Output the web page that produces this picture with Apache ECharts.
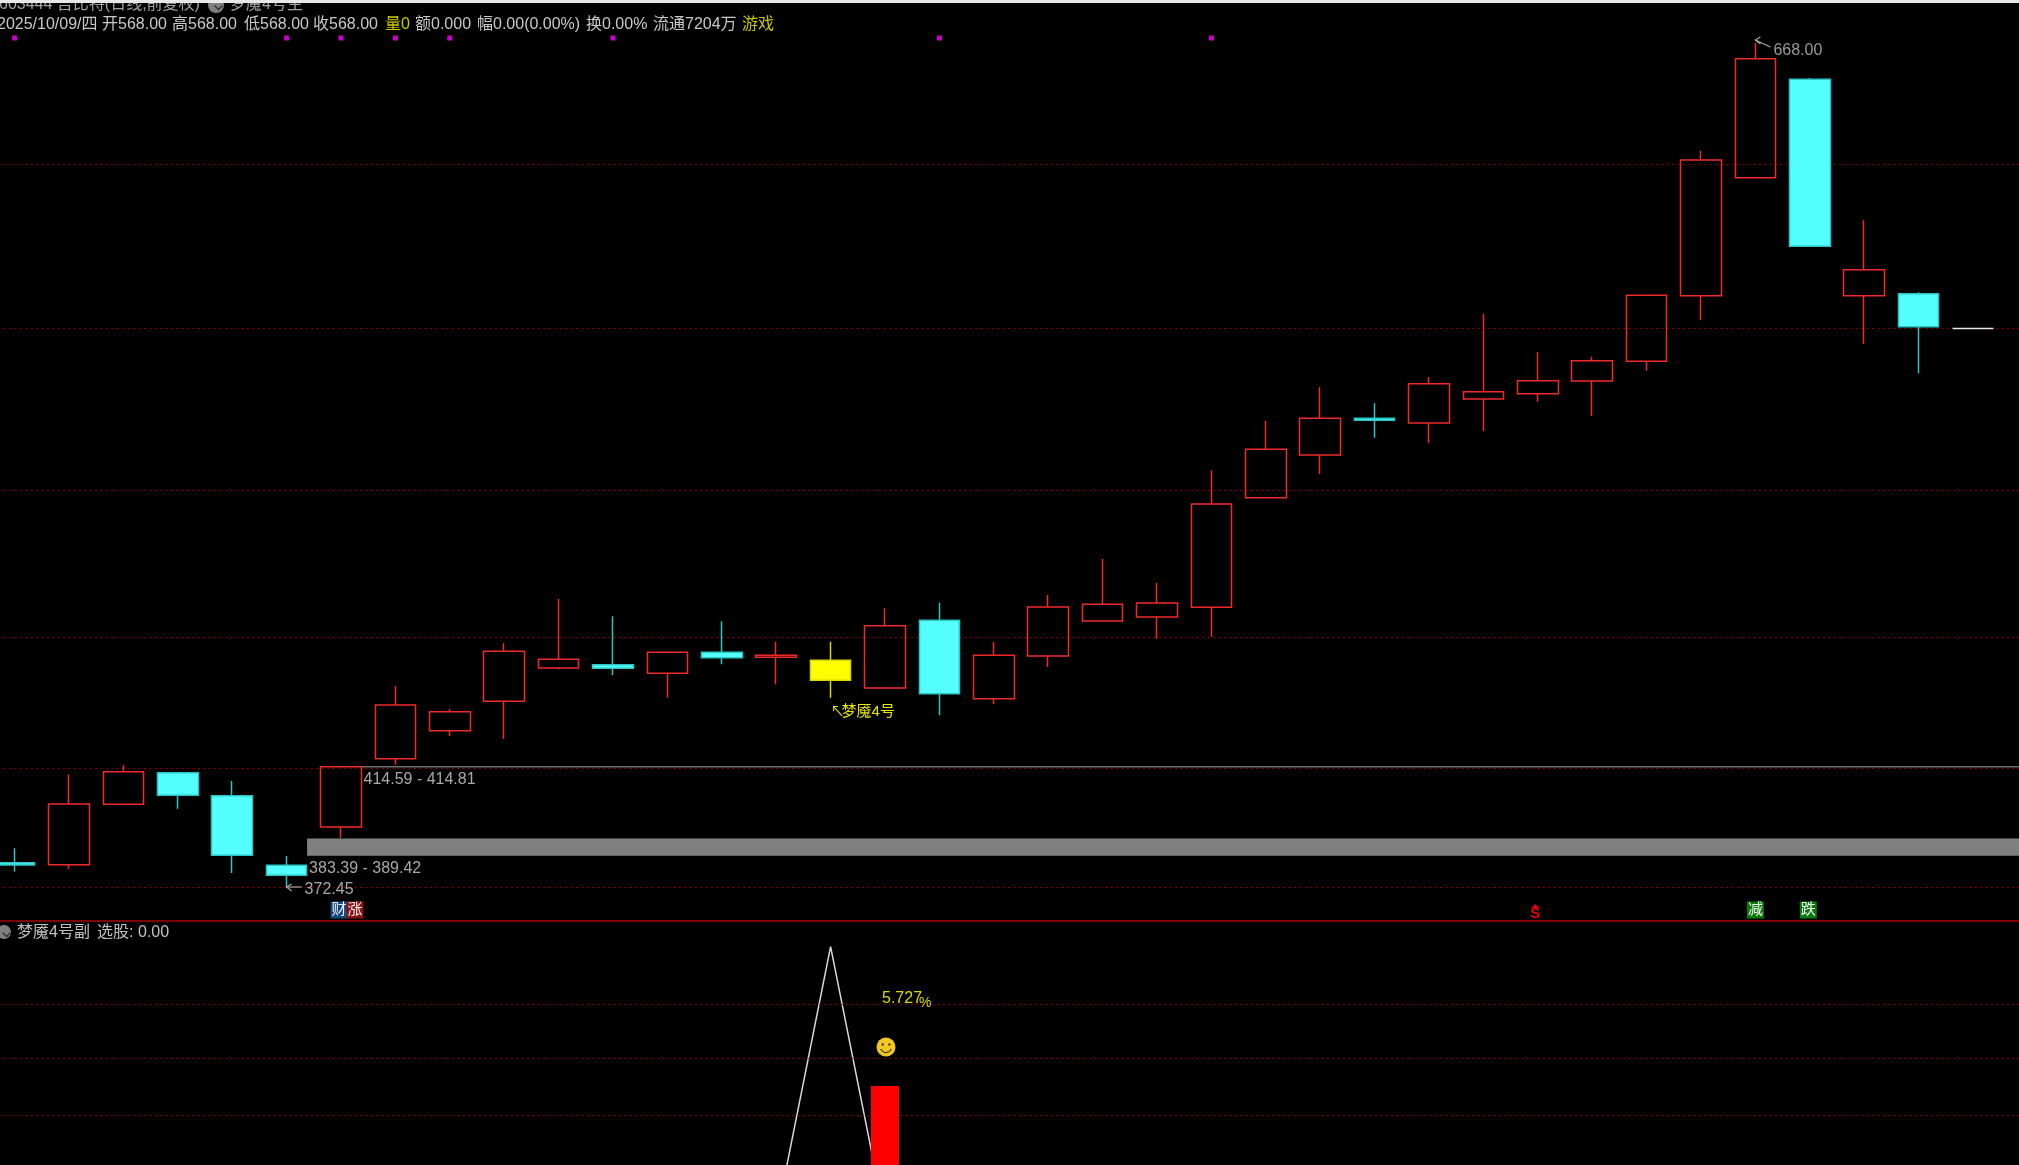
<!DOCTYPE html>
<html>
<head>
<meta charset="utf-8">
<title>梦魇4号</title>
<script src="https://cdn.jsdelivr.net/npm/echarts@6/dist/echarts.min.js"></script>
<style>
html,body{margin:0;padding:0;background:#000;overflow:hidden}
#board{width:2019px;height:1165px}
</style>
</head>
<body>
<div id="board"></div>
<script>
// daily candles
const opens  = [380.96,380.26,401.41,412.48,404.42,380.05,393.46,417.38,427.18,437.48,449.14,450.29,447.28,454.64,452.89,451.84,442.14,465.84,438.39,453.34,465.60,467.00,470.39,508.78,523.73,536.58,534.93,543.34,545.19,549.64,556.54,579.51,620.83,655.29,579.51,580.21,568.00]
const closes = [380.15,401.51,412.83,404.56,383.55,376.55,414.58,436.18,433.84,454.99,452.19,449.03,454.64,452.75,453.59,444.83,463.95,440.14,453.59,470.50,471.44,471.90,506.57,525.72,536.58,535.88,548.70,545.89,549.75,556.75,579.65,627.03,662.50,596.81,588.62,568.66,568.00]
const lows   = [377.81,378.75,401.41,399.87,377.35,372.45,389.50,415.28,425.22,424.28,448.69,446.69,438.74,450.43,443.43,438.74,442.14,432.58,436.43,449.49,465.60,459.40,460.10,508.78,517.07,529.79,527.93,532.13,542.39,537.39,553.25,570.95,620.83,596.81,562.60,552.34,568.00]
const highs  = [386.00,411.92,415.17,412.48,409.57,383.31,414.58,442.84,434.78,457.79,473.30,467.25,454.64,465.49,458.35,458.35,470.04,472.01,458.24,474.70,487.31,478.90,518.37,535.74,547.43,541.83,551.04,573.21,559.69,558.15,579.65,630.29,668.00,655.75,605.91,580.70,568.00]
const days = opens.map((v, i) => String(i)).concat([''])

const gridPrices = [625.63, 568.2, 511.47, 460.0, 414.12, 372.45]
const subGridValues = [0.79, 0.588, 0.381]

const signalDay = 15
const dojiDay = 36
const dotDays = [0, 5, 6, 7, 8, 11, 17, 22]
const dotPrice = 669.75

const zoneDays = [5, 6]
const zoneLows = [383.39, 414.59]
const zoneHighs = [389.42, 414.81]

const extremeDays = [5, 32]
const extremePrices = [372.45, 668.00]

const badgeDays = [6, 6, 32, 33]
const badgeTexts = ['财', '涨', '减', '跌']
const badgeColors = ['#12477f', '#8c1212', '#0a7a0a', '#0a7a0a']
const badgePrice = 364.4

const pickValues = [0,0,0,0,0,0,0,0,0,0,0,0,0,0,0,1,0,0,0,0,0,0,0,0,0,0,0,0,0,0,0,0,0,0,0,0,0,0]
const barDay = 16
const barValue = 0.488

const headerTexts = ['2025/10/09/四','开568.00','高568.00','低568.00','收568.00','量','0','额0.000','幅0.00(0.00%)','换0.00%','流通7204万','游戏']
const headerX = [-3,102,172,244,313,385,401,415,477,586,653,742]
const FONT = '"Liberation Sans","Noto Sans CJK SC",sans-serif'
const RED = '#f02a2a'
const CYAN = '#54ffff'
const TEAL = '#2cc4c4'
const GREY = '#a8a8a8'
const YELLOW = '#dcdc00'
const STEP = 54.4
const LEFT = 14.6 - STEP / 2

function txt(x, y, text, fill, size, align) {
  return {type:'text', silent:true, style:{x:x, y:y, text:text, fill:fill, font:size+'px '+FONT, textAlign:align||'left', textVerticalAlign:'middle'}}
}

let candleData = opens.map((o, i) => {
  let item = {value:[o, closes[i], lows[i], highs[i]]}
  if (i === signalDay) item.itemStyle = {color:'#ffff00', color0:'#ffff00', borderColor0:'#d8d800', borderColor:'#d8d800'}
  if (i === dojiDay) item.itemStyle = {borderColor:'#e8e8e8', borderColor0:'#e8e8e8', borderColorDoji:'#e8e8e8'}
  return item
})

let myChart = echarts.init(document.getElementById('board'), null, {renderer:'canvas'})
myChart.setOption({
  animation:false,
  backgroundColor:'#000',
  grid:[
    {left:LEFT, top:0, width:STEP*38, height:921, outerBoundsMode:'none'},
    {left:LEFT, top:921, width:STEP*38, height:297.7, outerBoundsMode:'none'}
  ],
  xAxis:[
    {type:'category', gridIndex:0, data:days, axisTick:{show:false}, axisLabel:{show:false}, axisLine:{show:true, lineStyle:{color:'#a80000', width:1.5}}, splitLine:{show:false}},
    {type:'category', gridIndex:1, data:days, show:false}
  ],
  yAxis:[
    {type:'value', gridIndex:0, min:360.54, max:683.05, show:false, splitLine:{show:false}},
    {type:'value', gridIndex:1, min:0, max:1.0945, show:false, splitLine:{show:false}}
  ],
  graphic:{elements:[
    {type:'rect', left:0, top:0, z:100, shape:{width:2019, height:3}, style:{fill:'#e8e8e8'}},
    {type:'text', left:-1, top:-3, z:90, style:{text:'603444 吉比特(日线,前复权)', fill:'#a0a0a0', font:'16px '+FONT}},
    {type:'circle', left:208, top:-3, z:90, shape:{r:8}, style:{fill:'#808080'}},
    {type:'polyline', left:212, top:3, z:91, shape:{points:[[0,0],[4,4],[8,0]]}, style:{stroke:'#333', lineWidth:1.5, fill:null}},
    {type:'text', left:230, top:-3, z:90, style:{text:'梦魇4号主', fill:'#a0a0a0', font:'16px '+FONT}},
    {type:'circle', left:-3, top:925, z:90, shape:{r:7}, style:{fill:'#808080'}},
    {type:'polyline', left:0, top:930, z:91, shape:{points:[[0,0],[4,4],[8,0]]}, style:{stroke:'#333', lineWidth:1.5, fill:null}},
    {type:'text', left:17, top:925, z:90, style:{text:'梦魇4号副', fill:'#c0c0c0', font:'16px '+FONT}},
    {type:'text', left:97, top:925, z:90, style:{text:'选股: 0.00', fill:'#c0c0c0', font:'16px '+FONT}}
  ].concat(headerTexts.map((t, i) => ({
    type:'text', left:headerX[i], top:17, z:90,
    style:{text:t, font:'16px '+FONT, fill:(t === '量' || t === '0' || t === '游戏') ? '#c8c800' : '#c8c8c8'}
  })))},
  series:[
    {
      name:'grid', type:'line', xAxisIndex:0, yAxisIndex:0, data:[], silent:true, z:1,
      markLine:{silent:true, symbol:'none', label:{show:false}, animation:false,
        lineStyle:{color:'#8c0000', width:1, type:[2,3.4]},
        data:gridPrices.map(p => ({yAxis:p}))}
    },
    {
      name:'subGrid', type:'line', xAxisIndex:1, yAxisIndex:1, data:[], silent:true, z:1,
      markLine:{silent:true, symbol:'none', label:{show:false}, animation:false,
        lineStyle:{color:'#8c0000', width:1, type:[2,3.4]},
        data:subGridValues.map(p => ({yAxis:p}))}
    },
    {
      name:'zones', type:'custom', xAxisIndex:0, yAxisIndex:0, z:2, silent:true,
      data:zoneDays.map((d, i) => [d, zoneLows[i], zoneHighs[i]]),
      renderItem(params, api){
        let i = params.dataIndex
        let top = api.coord([api.value(0), zoneHighs[i]])
        let bot = api.coord([api.value(0), zoneLows[i]])
        let x0 = top[0] + 20.5
        let h = Math.max(bot[1]-top[1], 1.5)
        return {type:'group', children:[
          {type:'rect', shape:{x:x0, y:top[1], width:api.getWidth()-x0, height:h},
            style:{fill:h > 3 ? '#808080' : '#6c6c6c'}},
          txt(x0+2, bot[1]+13, zoneLows[i].toFixed(2)+' - '+zoneHighs[i].toFixed(2), GREY, 16)
        ]}
      }
    },
    {
      name:'K', type:'candlestick', xAxisIndex:0, yAxisIndex:0, z:5, barWidth:41, silent:true,
      data:candleData,
      itemStyle:{color:'transparent', color0:CYAN, borderColor:RED, borderColor0:TEAL, borderColorDoji:RED, borderWidth:1.5}
    },
    {
      name:'dots', type:'scatter', xAxisIndex:0, yAxisIndex:0, z:6, symbol:'rect', symbolSize:5, silent:true,
      itemStyle:{color:'#ff00ff'},
      data:dotDays.map(d => [d, dotPrice])
    },
    {
      name:'extremes', type:'custom', xAxisIndex:0, yAxisIndex:0, z:7, silent:true,
      data:extremeDays.map((d, i) => [d, extremePrices[i]]),
      renderItem(params, api){
        let p = api.coord([api.value(0), api.value(1)])
        let low = params.dataIndex === 0
        let dy = low ? 0 : 7
        let yy = low ? p[1] : p[1]-3
        return {type:'group', children:[
          {type:'polyline', shape:{points:[[p[0],yy],[p[0]+15,yy+dy]]}, style:{stroke:GREY, lineWidth:1.2, fill:null}},
          {type:'polyline', shape:{points:[[p[0]+5,yy-3],[p[0],yy],[p[0]+5,yy+4]]}, style:{stroke:GREY, lineWidth:1.2, fill:null}},
          txt(p[0]+18, yy+(low?3:10.5), extremePrices[params.dataIndex].toFixed(2), low ? GREY : '#999', 16)
        ]}
      }
    },
    {
      name:'signalNote', type:'custom', xAxisIndex:0, yAxisIndex:0, z:7, silent:true,
      data:[[signalDay, lows[signalDay]]],
      renderItem(params, api){
        let p = api.coord([api.value(0), api.value(1)])
        return {type:'group', children:[
          txt(p[0]+0, p[1]+14, '↖', '#e8e800', 14),
          txt(p[0]+11, p[1]+14, '梦魇4号', '#e8e800', 15)
        ]}
      }
    },
    {
      name:'badges', type:'custom', xAxisIndex:0, yAxisIndex:0, z:7, silent:true,
      data:badgeDays.map(d => [d, badgePrice]),
      renderItem(params, api){
        let i = params.dataIndex
        let p = api.coord([api.value(0), api.value(1)])
        let cx = p[0] + (i === 0 ? -2 : i === 1 ? 14 : i === 3 ? -1.5 : 0)
        return {type:'group', children:[
          {type:'rect', shape:{x:cx-8.5, y:p[1]-8.5, width:17, height:17}, style:{fill:badgeColors[i]}},
          txt(cx, p[1], badgeTexts[i], '#f0f0f0', 15, 'center')
        ]}
      }
    },
    {
      name:'dollar', type:'custom', xAxisIndex:0, yAxisIndex:0, z:7, silent:true,
      data:[[28, badgePrice]],
      renderItem(params, api){
        let p = api.coord([api.value(0), api.value(1)])
        return {type:'group', children:[
          {type:'polygon', shape:{points:[[p[0]-6.5,p[1]-2],[p[0]-2.5,p[1]-6],[p[0]+1.5,p[1]-2]]}, style:{fill:'#ee0000'}},
          {type:'text', silent:true, style:{x:p[0]-2.5, y:p[1]+4, text:'S', fill:'#ee0000', font:'bold 15px '+FONT, textAlign:'center', textVerticalAlign:'middle'}}
        ]}
      }
    },
    {
      name:'选股', type:'line', xAxisIndex:1, yAxisIndex:1, z:4, silent:true, symbol:'none',
      lineStyle:{color:'#d8d8d8', width:1.5},
      data:pickValues
    },
    {
      name:'bar', type:'bar', xAxisIndex:1, yAxisIndex:1, z:5, barWidth:28, silent:true,
      itemStyle:{color:'#ff0000'},
      data:days.map((d, i) => i === barDay ? barValue : null)
    },
    {
      name:'pctNote', type:'custom', xAxisIndex:1, yAxisIndex:1, z:7, silent:true,
      data:[[barDay, 0.808]],
      renderItem(params, api){
        let p = api.coord([api.value(0), api.value(1)])
        return {type:'group', children:[
          txt(p[0]-3, p[1], '5.727', YELLOW, 16),
          txt(p[0]+34, p[1]+4, '%', YELLOW, 14)
        ]}
      }
    },
    {
      name:'smile', type:'custom', xAxisIndex:1, yAxisIndex:1, z:7, silent:true,
      data:[[barDay, 0.631]],
      renderItem(params, api){
        let p = api.coord([api.value(0), api.value(1)])
        let x = p[0] + 1, y = p[1]
        return {type:'group', children:[
          {type:'circle', shape:{cx:x, cy:y, r:9.5}, style:{fill:'#f0c820'}},
          {type:'circle', shape:{cx:x-3.3, cy:y-2.5, r:1.2}, style:{fill:'#4a3a00'}},
          {type:'circle', shape:{cx:x+3.3, cy:y-2.5, r:1.2}, style:{fill:'#4a3a00'}},
          {type:'arc', shape:{cx:x, cy:y, r:5.5, startAngle:0.35, endAngle:Math.PI-0.35}, style:{stroke:'#4a3a00', lineWidth:1.2, fill:null}}
        ]}
      }
    }
  ]
})
</script>
</body>
</html>
